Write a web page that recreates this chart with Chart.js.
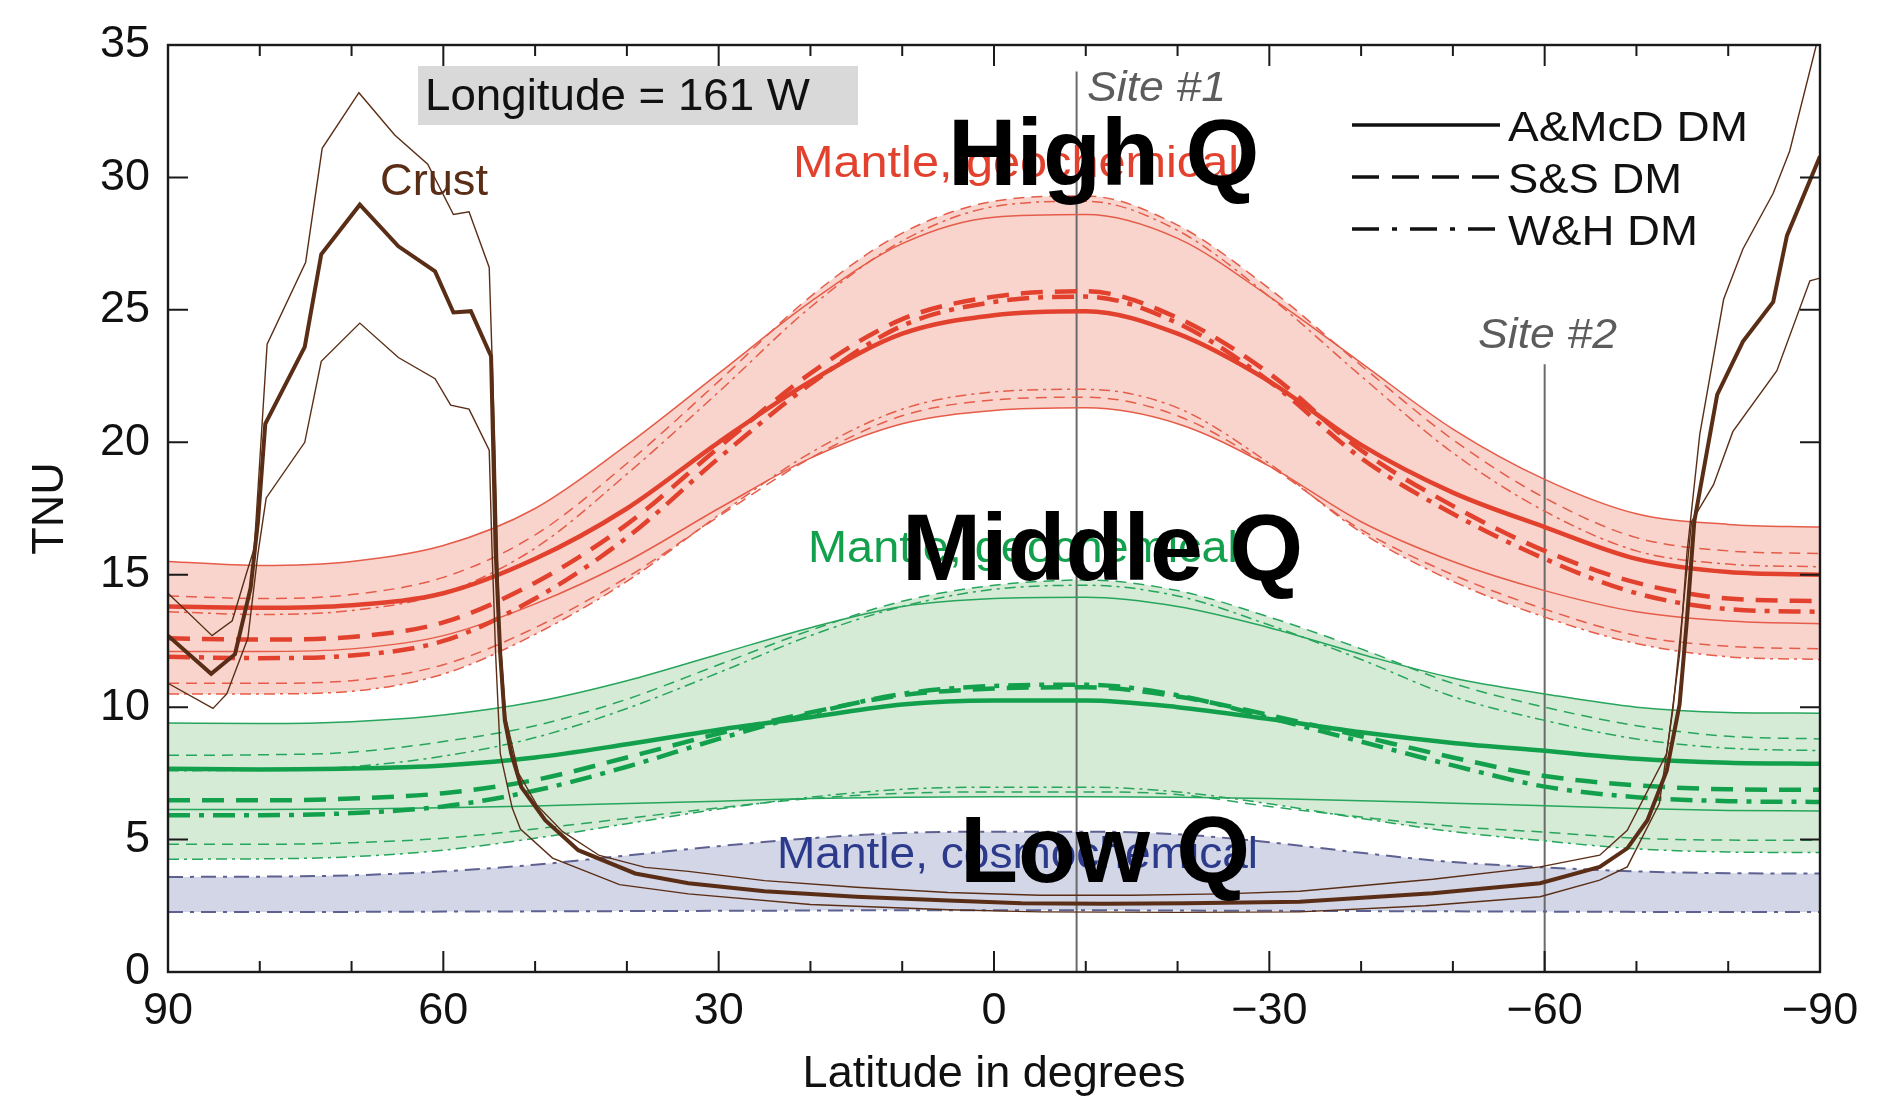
<!DOCTYPE html>
<html>
<head>
<meta charset="utf-8">
<script src="https://cdn.jsdelivr.net/npm/chart.js@4.4.0/dist/chart.umd.min.js"></script>
<style>
  html, body { margin: 0; padding: 0; background: #fff; }
  #wrap { width: 1884px; height: 1096px; }
</style>
</head>
<body>
<div id="wrap"><canvas id="tnuChart" width="1884" height="1096"></canvas></div>
<script>
/* --- Data --- */
const lat = [90, 80, 70, 60, 50, 40, 30, 20, 10, 0, -10, -20, -30, -40, -50, -60, -70, -80, -90];

// Mantle, geochemical - high Q (red)
const redHiSolid  = [15.5, 15.35, 15.5, 16.1, 17.5, 19.9, 22.6, 25.3, 27.5, 28.5, 28.6, 27.7, 25.5, 23.0, 20.5, 18.6, 17.3, 16.9, 16.8];
const redMidSolid = [13.8, 13.75, 13.85, 14.3, 15.6, 17.5, 20.0, 22.3, 24.1, 24.8, 24.95, 24.1, 22.3, 19.9, 18.1, 16.8, 15.6, 15.1, 15.0];
const redLoSolid  = [12.1, 12.1, 12.2, 12.7, 13.9, 15.5, 17.5, 19.4, 20.7, 21.2, 21.3, 20.7, 19.1, 17.0, 15.5, 14.4, 13.6, 13.25, 13.15];
const redHiDash   = [14.2, 14.1, 14.25, 14.9, 16.5, 19.2, 22.3, 25.5, 27.9, 29.1, 29.3, 28.2, 25.8, 22.9, 20.1, 17.9, 16.4, 15.9, 15.8];
const redMidDash  = [12.6, 12.55, 12.65, 13.2, 14.7, 16.9, 19.8, 22.6, 24.65, 25.5, 25.7, 24.7, 22.6, 19.7, 17.6, 15.9, 14.7, 14.1, 14.0];
const redLoDash   = [10.9, 10.9, 11.0, 11.6, 13.0, 14.9, 17.2, 19.4, 21.0, 21.6, 21.7, 21.0, 19.1, 16.7, 15.0, 13.7, 12.7, 12.3, 12.2];
const redHiDot    = [13.6, 13.5, 13.65, 14.3, 16.0, 18.8, 21.9, 25.1, 27.6, 28.9, 29.1, 28.0, 25.5, 22.5, 19.6, 17.4, 15.9, 15.4, 15.3];
const redMidDot   = [11.9, 11.85, 11.95, 12.5, 14.1, 16.4, 19.4, 22.2, 24.4, 25.3, 25.5, 24.5, 22.3, 19.4, 17.3, 15.6, 14.3, 13.7, 13.6];
const redLoDot    = [10.5, 10.5, 10.6, 11.25, 12.75, 14.75, 17.25, 19.6, 21.25, 21.9, 22.0, 21.3, 19.2, 16.6, 14.75, 13.4, 12.4, 11.9, 11.8];

// Mantle, geochemical - middle Q (green)
const greenHiSolid  = [9.4, 9.38, 9.45, 9.7, 10.2, 11.0, 12.0, 13.0, 13.8, 14.1, 14.15, 13.8, 13.0, 12.0, 11.1, 10.5, 10.0, 9.8, 9.77];
const greenMidSolid = [7.67, 7.65, 7.68, 7.8, 8.1, 8.6, 9.15, 9.62, 10.1, 10.25, 10.25, 10.0, 9.55, 9.05, 8.65, 8.35, 8.05, 7.9, 7.86];
const greenLoSolid  = [6.14, 6.14, 6.15, 6.2, 6.27, 6.36, 6.45, 6.55, 6.6, 6.62, 6.62, 6.6, 6.55, 6.47, 6.37, 6.28, 6.17, 6.1, 6.08];
const greenHiDash   = [8.18, 8.2, 8.3, 8.7, 9.3, 10.3, 11.6, 12.9, 14.0, 14.6, 14.8, 14.4, 13.4, 12.2, 10.9, 10.0, 9.3, 8.9, 8.8];
const greenMidDash  = [6.48, 6.48, 6.55, 6.75, 7.25, 8.1, 9.0, 9.8, 10.45, 10.7, 10.75, 10.4, 9.7, 8.9, 8.1, 7.4, 7.05, 6.9, 6.88];
const greenLoDash   = [4.82, 4.82, 4.88, 5.05, 5.4, 5.8, 6.2, 6.55, 6.75, 6.8, 6.8, 6.7, 6.25, 5.85, 5.5, 5.28, 5.05, 4.98, 4.97];
const greenHiDot    = [7.6, 7.62, 7.75, 8.15, 8.85, 9.95, 11.3, 12.7, 13.8, 14.45, 14.6, 14.2, 13.1, 11.8, 10.4, 9.5, 8.8, 8.45, 8.36];
const greenMidDot   = [5.92, 5.92, 6.0, 6.25, 6.85, 7.75, 8.8, 9.75, 10.5, 10.8, 10.85, 10.45, 9.6, 8.7, 7.8, 7.0, 6.6, 6.45, 6.42];
const greenLoDot    = [4.26, 4.27, 4.35, 4.6, 5.05, 5.6, 6.15, 6.6, 6.9, 6.98, 6.98, 6.8, 6.35, 5.8, 5.3, 4.95, 4.65, 4.53, 4.51];

// Mantle, cosmochemical - low Q (blue)
const blueHi = [3.59, 3.6, 3.65, 3.8, 4.05, 4.4, 4.75, 5.05, 5.25, 5.3, 5.3, 5.2, 4.9, 4.5, 4.15, 3.95, 3.8, 3.73, 3.72];
const blueLo = [2.27, 2.27, 2.27, 2.28, 2.29, 2.3, 2.31, 2.32, 2.33, 2.33, 2.33, 2.32, 2.31, 2.3, 2.29, 2.28, 2.27, 2.27, 2.27];

// Crust (central value and its two bounds)
const crustMidLat = [90, 85.3, 82.7, 81, 80.2, 79.4, 75.1, 73.3, 69.1, 64.9, 60.9, 58.9, 57.0, 54.8, 54.3, 53.8, 53.3, 52.6, 51.5, 48.9,
                     45.3, 39.1, 33.3, 25, 15, 5, -3, -12, -21, -33.3, -47.8, -59.5, -66, -69, -71.2, -73.3, -74.7, -75.5, -76.3, -78.8,
                     -81.6, -84.9, -86.4, -90];
const crustMid    = [12.7, 11.26, 12.0, 14.5, 17.0, 20.7, 23.6, 27.1, 28.97, 27.4, 26.45, 24.9, 24.95, 23.25, 15.9, 12.0, 9.5, 8.25, 6.98, 5.73,
                     4.6, 3.72, 3.35, 3.05, 2.84, 2.7, 2.6, 2.58, 2.6, 2.65, 2.97, 3.35, 3.97, 4.67, 5.73, 7.6, 10.1, 13.3, 17.0, 21.8,
                     23.8, 25.3, 27.8, 30.8];
const crustHiLat  = [90, 85.2, 83, 81.5, 80.6, 79.2, 75.0, 73.2, 69.2, 65.3, 61.7, 58.9, 57.2, 55.0, 54.4, 53.9, 53.2, 51.8, 49.8, 47,
                     43, 38, 33.3, 25, 15, 5, -5, -15, -25, -33.3, -47.8, -59.5, -66, -69, -73.3, -74.7, -75.5, -76.9, -79.5, -81.6,
                     -84.9, -86.7, -89.6];
const crustHi     = [14.3, 12.7, 13.26, 15.0, 16.0, 23.7, 26.8, 31.1, 33.2, 31.6, 30.5, 28.6, 28.7, 26.6, 20.0, 13.0, 9.6, 7.5, 6.3, 5.3,
                     4.4, 3.95, 3.8, 3.45, 3.2, 3.0, 2.9, 2.9, 2.95, 3.05, 3.5, 3.97, 4.41, 5.35, 8.25, 12.0, 15.8, 20.3, 25.4, 27.3,
                     29.4, 31.0, 35.0];
const crustLoLat  = [90, 85.1, 83.6, 81.3, 80.2, 79.3, 75.1, 73.3, 69.1, 64.9, 60.9, 59.2, 57.2, 55.0, 54.7, 54.3, 53.8, 52.5, 51.6, 48.1,
                     40.8, 33.3, 20, 5, -5, -20, -33.3, -47, -59.5, -66, -69, -72.5, -74.0, -75.3, -76.0, -78.4, -80.5, -85.3, -88.9, -90];
const crustLo     = [10.9, 9.95, 10.5, 12.6, 15.8, 17.9, 20.0, 23.06, 24.5, 23.2, 22.4, 21.4, 21.25, 19.7, 16.0, 12.0, 8.25, 6.2, 5.4, 4.3,
                     3.3, 2.95, 2.55, 2.35, 2.27, 2.25, 2.27, 2.5, 2.84, 3.47, 3.97, 6.36, 10.0, 14.5, 17.0, 18.4, 20.4, 22.7, 26.1, 26.2];

// Sites: latitude and top of the marker line (TNU)
const siteLat = [-9, -60];
const siteTop = [34.0, 22.95];

const legendNames = ['A&McD DM', 'S&S DM', 'W&H DM'];

/* --- Styles --- */
const FONT = "'Liberation Sans', Arial, Helvetica, sans-serif";
const RED = '#e2412e', RED_THIN = '#e55c49', RED_FILL = '#f8d4cd';
const GREEN = '#12a04d', GREEN_THIN = '#27a55c', GREEN_FILL = '#d5ebd6';
const BLUE = '#5d6190', BLUE_FILL = '#d3d6e7';
const BROWN = '#5a2e16';
const SITE = '#6a6a6a';

const THICK = 4.5, THIN = 1.5;
const DASH_THICK = [22, 12], DOT_THICK = [22, 9, 5, 9];
const DASH_THIN = [11, 7], DOT_THIN = [11, 5, 3, 5];

function onLat(ys) { return lat.map((x, i) => ({ x: x, y: ys[i] })); }
function xy(xs, ys) { return xs.map((x, i) => ({ x: x, y: ys[i] })); }

function line(data, color, width, dash, extra) {
    return Object.assign({
        data: data,
        borderColor: color,
        borderWidth: width,
        borderDash: dash || [],
        backgroundColor: 'transparent',
        pointRadius: 0,
        fill: false,
        cubicInterpolationMode: 'monotone'
    }, extra || {});
}

const sets = [];
const at = {};
function add(name, ds) { at[name] = sets.length; sets.push(ds); }

// index 0 is drawn last (on top)
const crustStyle = { cubicInterpolationMode: 'default', tension: 0, borderJoinStyle: 'miter' };
add('crustMid', line(xy(crustMidLat, crustMid), BROWN, 4, [], crustStyle));
add('crustHi', line(xy(crustHiLat, crustHi), BROWN, 1.4, [], crustStyle));
add('crustLo', line(xy(crustLoLat, crustLo), BROWN, 1.4, [], crustStyle));

add('blueHi', line(onLat(blueHi), BLUE, 2, [15, 7, 4, 7]));
add('blueLo', line(onLat(blueLo), BLUE, 2, [15, 7, 4, 7]));

add('redMidSolid', line(onLat(redMidSolid), RED, THICK));
add('redMidDash', line(onLat(redMidDash), RED, THICK, DASH_THICK));
add('redMidDot', line(onLat(redMidDot), RED, THICK, DOT_THICK));
add('redHiSolid', line(onLat(redHiSolid), RED_THIN, THIN));
add('redHiDash', line(onLat(redHiDash), RED_THIN, THIN, DASH_THIN));
add('redHiDot', line(onLat(redHiDot), RED_THIN, THIN, DOT_THIN));
add('redLoSolid', line(onLat(redLoSolid), RED_THIN, THIN));
add('redLoDash', line(onLat(redLoDash), RED_THIN, THIN, DASH_THIN));
add('redLoDot', line(onLat(redLoDot), RED_THIN, THIN, DOT_THIN));

add('greenMidSolid', line(onLat(greenMidSolid), GREEN, THICK));
add('greenMidDash', line(onLat(greenMidDash), GREEN, THICK, DASH_THICK));
add('greenMidDot', line(onLat(greenMidDot), GREEN, THICK, DOT_THICK));
add('greenHiSolid', line(onLat(greenHiSolid), GREEN_THIN, THIN));
add('greenHiDash', line(onLat(greenHiDash), GREEN_THIN, THIN, DASH_THIN));
add('greenHiDot', line(onLat(greenHiDot), GREEN_THIN, THIN, DOT_THIN));
add('greenLoSolid', line(onLat(greenLoSolid), GREEN_THIN, THIN));
add('greenLoDash', line(onLat(greenLoDash), GREEN_THIN, THIN, DASH_THIN));
add('greenLoDot', line(onLat(greenLoDot), GREEN_THIN, THIN, DOT_THIN));

siteLat.forEach((s, i) => {
    add('site' + i, line([{ x: s, y: 0 }, { x: s, y: siteTop[i] }], SITE, 2, [], { cubicInterpolationMode: 'default' }));
});

// Bands: opaque fills, so overlapping pairs give the envelope
function band(upper, lower, color) {
    sets[at[upper]].fill = { target: at[lower] };
    sets[at[upper]].backgroundColor = color;
}
band('redHiSolid', 'redLoDot', RED_FILL);
band('redHiDash', 'redLoSolid', RED_FILL);
band('greenHiSolid', 'greenLoDot', GREEN_FILL);
band('greenHiDash', 'greenLoSolid', GREEN_FILL);
band('blueHi', 'blueLo', BLUE_FILL);

/* --- Annotation helpers --- */
function label(ctx, str, x, y, opt) {
    ctx.save();
    ctx.font = (opt.style || 'normal') + ' ' + (opt.weight || 'normal') + ' ' + opt.size + 'px ' + FONT;
    ctx.fillStyle = opt.color || '#111';
    ctx.textAlign = 'left';
    ctx.textBaseline = 'alphabetic';
    let sx = 1;
    if (opt.width) sx = opt.width / ctx.measureText(str).width;
    ctx.translate(x, y);
    ctx.scale(sx, 1);
    ctx.fillText(str, 0, 0);
    ctx.restore();
}

const framePlugin = {
    id: 'frameAndNotes',
    afterDatasetsDraw(chart) {
        const { ctx, chartArea: a, scales: { x, y } } = chart;
        ctx.save();

        // frame with inward ticks
        ctx.strokeStyle = '#1a1a1a';
        ctx.lineWidth = 2.4;
        ctx.strokeRect(a.left, a.top, a.right - a.left, a.bottom - a.top);
        ctx.lineWidth = 2;
        ctx.beginPath();
        for (let v = -90; v <= 90; v += 10) {
            const px = x.getPixelForValue(v);
            const len = v % 30 === 0 ? 21 : 11;
            ctx.moveTo(px, a.bottom); ctx.lineTo(px, a.bottom - len);
            ctx.moveTo(px, a.top); ctx.lineTo(px, a.top + len);
        }
        for (let v = 0; v <= 35; v += 5) {
            const py = y.getPixelForValue(v);
            ctx.moveTo(a.left, py); ctx.lineTo(a.left + 20, py);
            ctx.moveTo(a.right, py); ctx.lineTo(a.right - 20, py);
        }
        ctx.stroke();

        // longitude box
        ctx.fillStyle = '#d9d9d9';
        ctx.fillRect(418, 66, 440, 59);
        label(ctx, 'Longitude = 161 W', 425, 110, { size: 45, width: 385, color: '#111' });

        // curve labels
        label(ctx, 'Crust', 380, 195, { size: 44, width: 108, color: '#5a2e16' });
        label(ctx, 'Mantle, geochemical', 793, 177, { size: 45, width: 446, color: RED });
        label(ctx, 'Mantle, geochemical', 808, 562, { size: 44, width: 430, color: GREEN });
        label(ctx, 'Mantle, cosmochemical', 777, 868, { size: 45, width: 481, color: '#2c3a8c' });

        // site labels
        label(ctx, 'Site #1', 1087, 101, { size: 42, style: 'italic', width: 139, color: '#5c5c5c' });
        label(ctx, 'Site #2', 1478, 348, { size: 42, style: 'italic', width: 139, color: '#5c5c5c' });

        // legend
        const legY = [125, 177, 229];
        const legDash = [[], [27, 13], [27, 13, 5, 13]];
        const legW = [240, 174, 190];
        ctx.strokeStyle = '#111';
        ctx.lineWidth = 3.5;
        legendNames.forEach((name, i) => {
            ctx.setLineDash(legDash[i]);
            ctx.beginPath();
            ctx.moveTo(1352, legY[i]);
            ctx.lineTo(1500, legY[i]);
            ctx.stroke();
            label(ctx, name, 1508, legY[i] + 16, { size: 43, width: legW[i], color: '#111' });
        });
        ctx.setLineDash([]);

        // overlay captions
        label(ctx, 'High Q', 948, 185, { size: 95, weight: 'bold', color: '#000' });
        label(ctx, 'Middle Q', 902, 580, { size: 95, weight: 'bold', color: '#000' });
        label(ctx, 'Low Q', 960, 882, { size: 95, weight: 'bold', color: '#000' });

        ctx.restore();
    }
};

/* --- Chart --- */
Chart.defaults.font.family = FONT;
Chart.defaults.color = '#111';

new Chart(document.getElementById('tnuChart'), {
    type: 'line',
    data: { datasets: sets },
    options: {
        responsive: false,
        animation: false,
        devicePixelRatio: 1,
        layout: { padding: { top: 43, right: 64, left: 0, bottom: 0 } },
        plugins: {
            legend: { display: false },
            tooltip: { enabled: false },
            filler: { propagate: false, drawTime: 'beforeDatasetsDraw' }
        },
        elements: { line: { borderCapStyle: 'butt', borderJoinStyle: 'round' } },
        scales: {
            x: {
                type: 'linear',
                min: -90,
                max: 90,
                reverse: true,
                grid: { display: false, drawTicks: false },
                border: { display: false },
                ticks: {
                    stepSize: 30,
                    padding: 13,
                    autoSkip: false,
                    maxRotation: 0,
                    color: '#111',
                    font: { size: 45 },
                    callback: v => v < 0 ? '\u2212' + Math.abs(v) : String(v)
                },
                title: {
                    display: true,
                    text: 'Latitude in degrees',
                    color: '#111',
                    font: { size: 45 },
                    padding: { top: 0, bottom: -6 }
                },
                afterFit: s => { s.height = 124; }
            },
            y: {
                type: 'linear',
                min: 0,
                max: 35,
                grid: { display: false, drawTicks: false },
                border: { display: false },
                ticks: { stepSize: 5, padding: 18, color: '#111', font: { size: 45 } },
                title: {
                    display: true,
                    text: 'TNU',
                    color: '#111',
                    font: { size: 45 },
                    padding: { top: 24, bottom: 0 }
                },
                afterFit: s => { s.width = 168; }
            }
        }
    },
    plugins: [framePlugin]
});
</script>
</body>
</html>
